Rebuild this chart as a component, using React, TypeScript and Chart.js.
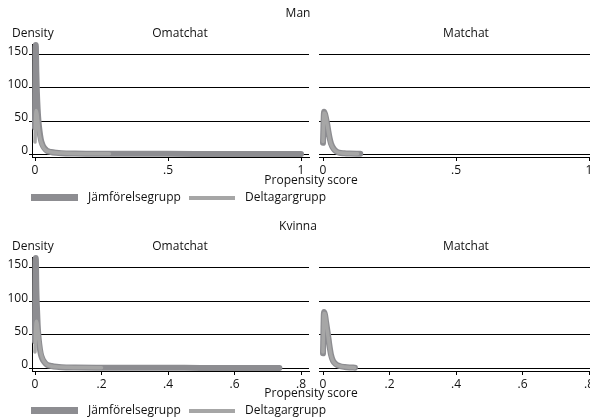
import React, { useEffect, useRef } from "react";
import { Chart, registerables } from "chart.js";
Chart.register(...registerables);

// ---- tick values ----
const yTicks = [0, 50, 100, 150];
const xTicksMan = [0, 0.5, 1];
const xTicksKvinna = [0, 0.2, 0.4, 0.6, 0.8];

// ---- Man, Omatchat ----
const manOmJamX = [0, 0.0015, 0.003, 0.005, 0.007, 0.01, 0.013, 0.017, 0.022, 0.028, 0.035, 0.045, 0.06, 0.08, 0.1, 0.15, 0.2, 0.3, 0.4, 0.5, 0.6, 0.7, 0.8, 0.9, 1.0];
const manOmJamY = [40, 160, 165, 125, 95, 68, 50, 35, 22, 14, 9, 5, 3, 1.8, 1.2, 0.7, 0.5, 0.3, 0.25, 0.2, 0.15, 0.1, 0.08, 0.06, 0.05];
const manOmDelX = [0, 0.002, 0.004, 0.007, 0.01, 0.014, 0.02, 0.03, 0.04, 0.06, 0.1, 0.15, 0.2, 0.28];
const manOmDelY = [18, 50, 66, 62, 52, 36, 22, 11, 6, 3, 1.5, 0.8, 0.5, 0.3];

// ---- Man, Matchat ----
const manMaJamX = [0, 0.004, 0.008, 0.012, 0.016, 0.02, 0.025, 0.03, 0.04, 0.05, 0.06, 0.08, 0.1, 0.14];
const manMaJamY = [17, 64, 60, 53, 45, 35, 24, 16, 8, 4, 2, 1, 0.6, 0.3];
const manMaDelX = [0, 0.004, 0.008, 0.012, 0.016, 0.02, 0.025, 0.03, 0.04, 0.05, 0.07, 0.1, 0.13];
const manMaDelY = [19, 62, 61, 54, 44, 34, 23, 15, 7.5, 3.8, 1.5, 0.7, 0.4];

// ---- Kvinna, Omatchat ----
const kvOmJamX = [0, 0.0012, 0.0025, 0.004, 0.0055, 0.008, 0.01, 0.013, 0.017, 0.022, 0.028, 0.036, 0.05, 0.065, 0.08, 0.12, 0.2, 0.3, 0.45, 0.6, 0.735];
const kvOmJamY = [40, 160, 165, 120, 95, 65, 50, 35, 22, 14, 9, 5, 3, 1.8, 1.2, 0.7, 0.4, 0.3, 0.2, 0.1, 0.05];
const kvOmDelX = [0, 0.0025, 0.005, 0.008, 0.012, 0.016, 0.022, 0.03, 0.04, 0.06, 0.1, 0.15, 0.2];
const kvOmDelY = [24, 62, 70, 60, 42, 27, 15, 8, 4, 2, 1, 0.6, 0.4];

// ---- Kvinna, Matchat ----
const kvMaJamX = [0, 0.003, 0.006, 0.009, 0.012, 0.015, 0.019, 0.024, 0.03, 0.038, 0.05, 0.065, 0.08, 0.096];
const kvMaJamY = [22, 84, 80, 70, 60, 50, 35, 20, 11, 6, 3, 1.5, 0.8, 0.5];
const kvMaDelX = [0, 0.003, 0.006, 0.009, 0.012, 0.015, 0.019, 0.024, 0.03, 0.04, 0.055, 0.075, 0.095];
const kvMaDelY = [24, 82, 81, 71, 59, 48, 34, 19, 10.5, 5, 2.5, 1, 0.5];

const JAM_COLOR = "#8d8d91";
const DEL_COLOR = "#a6a6a6";
const FONT = "'Open Sans', sans-serif";

type Series = { xs: number[]; ys: number[]; color: string; width: number; order: number };

const fmt = (v: number) => String(v).replace(/^0\./, ".");

function Panel(props: {
  left: number; top: number; width: number; height: number;
  pad: { top: number; left: number; right: number; bottom: number };
  yAxisWidth: number; xHeight: number;
  xMin: number; xMax: number; yMin: number; yMax: number;
  xTicks: number[]; showY: boolean; series: Series[];
}) {
  const ref = useRef<HTMLCanvasElement>(null);
  useEffect(() => {
    const p = props;
    const chart = new Chart(ref.current as HTMLCanvasElement, {
      type: "scatter",
      data: {
        datasets: p.series.map((s) => ({
          data: s.xs.map((x, i) => ({ x, y: s.ys[i] })),
          showLine: true,
          borderColor: s.color,
          backgroundColor: s.color,
          borderWidth: s.width,
          pointRadius: 0,
          pointHoverRadius: 0,
          fill: false,
          clip: false as any,
          order: s.order,
          borderCapStyle: "round",
          borderJoinStyle: "round",
          cubicInterpolationMode: "monotone",
        })),
      } as any,
      options: {
        responsive: false,
        animation: false,
        events: [],
        layout: { padding: p.pad },
        plugins: { legend: { display: false }, tooltip: { enabled: false }, title: { display: false } },
        scales: {
          x: {
            type: "linear",
            min: p.xMin,
            max: p.xMax,
            afterBuildTicks: (s: any) => { s.ticks = p.xTicks.map((v) => ({ value: v })); },
            afterFit: (s: any) => { s.height = p.xHeight; },
            grid: { drawOnChartArea: false, drawTicks: true, tickLength: 4, color: "#000", lineWidth: 1 },
            border: { display: true, color: "#000", width: 1 },
            ticks: {
              color: "#111", font: { family: FONT, size: 12 }, padding: 2,
              maxRotation: 0, autoSkip: false, callback: (v: any) => fmt(Number(v)),
            },
          },
          y: {
            type: "linear",
            min: p.yMin,
            max: p.yMax,
            afterBuildTicks: (s: any) => { s.ticks = yTicks.map((v) => ({ value: v })); },
            afterFit: (s: any) => { s.width = p.yAxisWidth; },
            grid: { drawOnChartArea: true, drawTicks: p.showY, tickLength: 3, color: "#000", lineWidth: 1 },
            border: { display: p.showY, color: "#000", width: 1 },
            ticks: {
              display: p.showY, color: "#111", font: { family: FONT, size: 12 }, padding: 1,
              labelOffset: -3, callback: (v: any) => String(v),
            },
          },
        },
      } as any,
    });
    return () => chart.destroy();
  }, []);
  return (
    <canvas
      ref={ref}
      width={props.width}
      height={props.height}
      style={{ position: "absolute", left: props.left, top: props.top, width: props.width, height: props.height }}
    />
  );
}

function T(props: { x: number; y: number; align?: "left" | "center"; children: React.ReactNode }) {
  const center = props.align !== "left";
  return (
    <div
      style={{
        position: "absolute",
        left: props.x,
        top: props.y,
        transform: center ? "translate(-50%, -50%)" : "translate(0, -50%)",
        fontFamily: FONT,
        fontSize: 12,
        lineHeight: "14px",
        color: "#111",
        whiteSpace: "nowrap",
      }}
    >
      {props.children}
    </div>
  );
}

function Block(props: { dy: number; title: string }) {
  const dy = props.dy;
  return (
    <>
      <T x={298} y={13 + dy}>{props.title}</T>
      <T x={12} y={33 + dy} align="left">Density</T>
      <T x={180} y={33 + dy}>Omatchat</T>
      <T x={466} y={33 + dy}>Matchat</T>
      <T x={311} y={180 + dy}>Propensity score</T>
      <div style={{ position: "absolute", left: 31, top: 194 + dy, width: 47, height: 7, background: JAM_COLOR }} />
      <T x={88} y={197 + dy} align="left">Jämförelsegrupp</T>
      <div style={{ position: "absolute", left: 189, top: 196 + dy, width: 46, height: 4, background: DEL_COLOR }} />
      <T x={245} y={197 + dy} align="left">Deltagargrupp</T>
    </>
  );
}

const jam = (xs: number[], ys: number[]): Series => ({ xs, ys, color: JAM_COLOR, width: 6, order: 1 });
const del = (xs: number[], ys: number[]): Series => ({ xs, ys, color: DEL_COLOR, width: 3.5, order: 0 });

export default function App() {
  return (
    <div style={{ position: "fixed", left: 0, top: 0, width: 590, height: 420, overflow: "hidden", background: "#fff" }}>
      {/* Man */}
      <Panel left={0} top={30} width={320} height={150}
        pad={{ top: 14, left: 0, right: 11, bottom: 0 }} yAxisWidth={32} xHeight={23}
        xMin={-3 / 266} xMax={1 + 8 / 266} yMin={-3 / 0.66} yMax={110 / 0.66}
        xTicks={xTicksMan} showY={true}
        series={[jam(manOmJamX, manOmJamY), del(manOmDelX, manOmDelY)]} />
      <Panel left={300} top={30} width={300} height={150}
        pad={{ top: 14, left: 19, right: 8, bottom: 0 }} yAxisWidth={0} xHeight={23}
        xMin={-4 / 266} xMax={269 / 266} yMin={-3 / 0.66} yMax={110 / 0.66}
        xTicks={xTicksMan} showY={false}
        series={[jam(manMaJamX, manMaJamY), del(manMaDelX, manMaDelY)]} />
      {/* Kvinna */}
      <Panel left={0} top={243} width={320} height={150}
        pad={{ top: 14, left: 0, right: 11, bottom: 0 }} yAxisWidth={32} xHeight={22}
        xMin={-3 / 332.5} xMax={274 / 332.5} yMin={-3 / (2 / 3)} yMax={111 / (2 / 3)}
        xTicks={xTicksKvinna} showY={true}
        series={[jam(kvOmJamX, kvOmJamY), del(kvOmDelX, kvOmDelY)]} />
      <Panel left={300} top={243} width={300} height={150}
        pad={{ top: 14, left: 19, right: 8, bottom: 0 }} yAxisWidth={0} xHeight={22}
        xMin={-4 / 332.5} xMax={269 / 332.5} yMin={-3 / (2 / 3)} yMax={111 / (2 / 3)}
        xTicks={xTicksKvinna} showY={false}
        series={[jam(kvMaJamX, kvMaJamY), del(kvMaDelX, kvMaDelY)]} />
      <Block dy={0} title="Man" />
      <Block dy={213} title="Kvinna" />
    </div>
  );
}
